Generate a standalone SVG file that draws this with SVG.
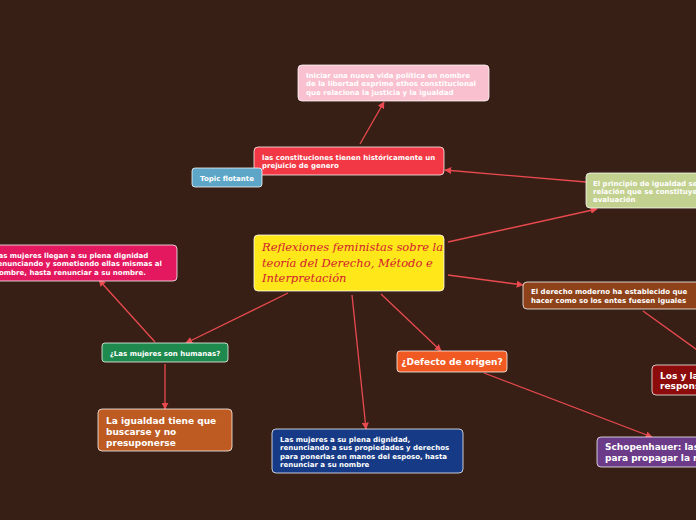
<svg xmlns="http://www.w3.org/2000/svg" width="696" height="520" viewBox="0 0 696 520">
<style>
.n{stroke:#ffffff;stroke-opacity:0.75;stroke-width:1}
.t{font-family:"DejaVu Sans",sans-serif;font-weight:bold;font-size:7px;fill:#ffffff}
.b{font-family:"DejaVu Sans",sans-serif;font-weight:bold;font-size:9px;fill:#ffffff}
.c{stroke:#e84a4f;stroke-width:1.3;fill:none}
</style>
<defs>
<marker id="a" viewBox="0 0 10 10" refX="9" refY="5" markerWidth="7" markerHeight="7" orient="auto" markerUnits="userSpaceOnUse">
<path d="M0,0 L10,5 L0,10 z" fill="#e84a4f"/>
</marker>
</defs>
<rect width="696" height="520" fill="#381f15"/>
<g id="connectors">
<line class="c" x1="360" y1="144" x2="384" y2="102" marker-end="url(#a)"/>
<line class="c" x1="586" y1="182" x2="445" y2="170" marker-end="url(#a)"/>
<line class="c" x1="448" y1="242" x2="597" y2="209" marker-end="url(#a)"/>
<line class="c" x1="448" y1="275" x2="523" y2="285" marker-end="url(#a)"/>
<line class="c" x1="643" y1="311" x2="700" y2="352"/>
<line class="c" x1="381" y1="294" x2="441" y2="351" marker-end="url(#a)"/>
<line class="c" x1="352" y1="295" x2="366" y2="429" marker-end="url(#a)"/>
<line class="c" x1="288" y1="293" x2="186" y2="343" marker-end="url(#a)"/>
<line class="c" x1="155" y1="342" x2="99" y2="280" marker-end="url(#a)"/>
<line class="c" x1="165" y1="364" x2="165" y2="409" marker-end="url(#a)"/>
<line class="c" x1="484" y1="373" x2="652" y2="437" marker-end="url(#a)"/>
</g>
<g id="n-pink">
<rect class="n" x="298" y="65" width="191" height="36" rx="4" fill="#f9c1cf"/>
<text class="t"><tspan x="306" y="78">Iniciar una nueva vida política en nombre</tspan><tspan x="306" y="86">de la libertad exprime ethos constitucional</tspan><tspan x="306" y="95">que relaciona la justicia y la igualdad</tspan></text>
</g>
<g id="n-red">
<rect class="n" x="254" y="147" width="190" height="28" rx="4" fill="#f23844"/>
<text class="t"><tspan x="262" y="160">las constituciones tienen históricamente un</tspan><tspan x="262" y="168">prejuicio de genero</tspan></text>
</g>
<g id="n-topic">
<rect class="n" x="192" y="168" width="70" height="19" rx="3" fill="#5ea6c8"/>
<text class="t" x="227" y="180.5" text-anchor="middle">Topic flotante</text>
</g>
<g id="n-principio">
<rect class="n" x="586" y="173" width="120" height="35" rx="4" fill="#c3d190"/>
<text class="t"><tspan x="593" y="186">El principio de igualdad se</tspan><tspan x="593" y="194">relación que se constituye</tspan><tspan x="593" y="202">evaluación</tspan></text>
</g>
<g id="n-mujeres-llegan">
<rect class="n" x="-14" y="245" width="191" height="36" rx="4" fill="#e3185f"/>
<text class="t"><tspan x="-6" y="258">Las mujeres llegan a su plena dignidad</tspan><tspan x="-6" y="266">renunciando y sometiendo ellas mismas al</tspan><tspan x="-6" y="275">nombre, hasta renunciar a su nombre.</tspan></text>
</g>
<g id="n-central">
<rect class="n" x="254" y="235" width="190" height="56" rx="4" fill="#ffe719"/>
<text font-family="'DejaVu Serif',serif" font-style="italic" font-size="11.5" fill="#d1202f"><tspan x="262" y="251">Reflexiones feministas sobre la</tspan><tspan x="262" y="267">teoría del Derecho, Método e</tspan><tspan x="262" y="282">Interpretación</tspan></text>
</g>
<g id="n-derecho">
<rect class="n" x="523" y="282" width="185" height="27" rx="4" fill="#8e421a"/>
<text class="t"><tspan x="531" y="294">El derecho moderno ha establecido que</tspan><tspan x="531" y="303">hacer como so los entes fuesen iguales</tspan></text>
</g>
<g id="n-humanas">
<rect class="n" x="102" y="343" width="126" height="19" rx="3" fill="#1e8a4d"/>
<text class="t" x="165" y="355.5" text-anchor="middle">¿Las mujeres son humanas?</text>
</g>
<g id="n-defecto">
<rect class="n" x="397" y="351" width="110" height="21" rx="3" fill="#f05a22"/>
<text class="b" x="452" y="365" text-anchor="middle">¿Defecto de origen?</text>
</g>
<g id="n-los">
<rect class="n" x="652" y="365" width="60" height="30" rx="4" fill="#8c0b0b"/>
<text class="b"><tspan x="660" y="379">Los y las</tspan><tspan x="660" y="389">respons</tspan></text>
</g>
<g id="n-igualdad">
<rect class="n" x="98" y="409" width="134" height="42" rx="4" fill="#be5b22"/>
<text class="b" font-size="9.5"><tspan x="106" y="424">La igualdad tiene que</tspan><tspan x="106" y="435">buscarse y no</tspan><tspan x="106" y="446">presuponerse</tspan></text>
</g>
<g id="n-plena">
<rect class="n" x="272" y="429" width="191" height="44" rx="4" fill="#173a86"/>
<text class="t"><tspan x="280" y="442">Las mujeres a su plena dignidad,</tspan><tspan x="280" y="450">renunciando a sus propiedades y derechos</tspan><tspan x="280" y="459">para ponerlas en manos del esposo, hasta</tspan><tspan x="280" y="467">renunciar a su nombre</tspan></text>
</g>
<g id="n-schopenhauer">
<rect class="n" x="597" y="437" width="115" height="30" rx="4" fill="#6b3a88"/>
<text class="b"><tspan x="605" y="450">Schopenhauer: las mujeres</tspan><tspan x="605" y="461">para propagar la raza</tspan></text>
</g>
</svg>
